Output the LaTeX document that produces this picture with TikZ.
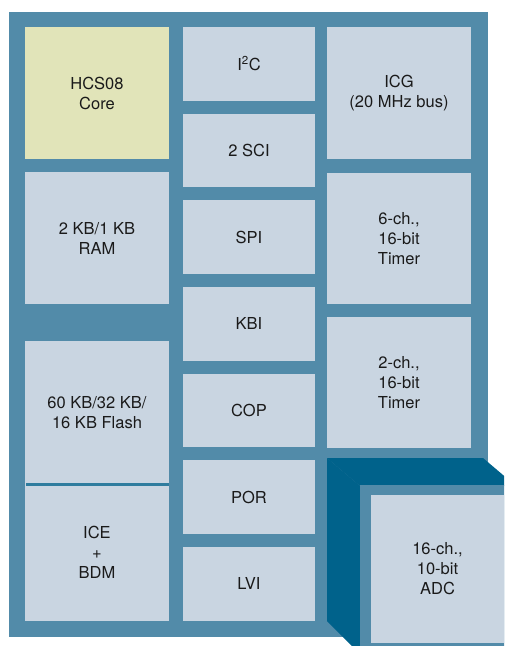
\documentclass[tikz,border=0pt]{standalone}
\usepackage{fontspec}
\setmainfont{TeX Gyre Heros}
\usepackage{tikz}
\usepackage{xcolor}
\usetikzlibrary{positioning, calc}
\definecolor{cFrame}  {HTML}{528BA9}
\definecolor{cBlock}  {HTML}{C9D5E1}
\definecolor{cCore}   {HTML}{E1E4B9}
\definecolor{cDeep}   {HTML}{00628B}
\definecolor{cRule}   {HTML}{2E7C9E}
\definecolor{cInk}    {HTML}{1A1A1A}
\tikzset{
  blk/.style={fill=cBlock, draw=none, inner sep=0pt, outer sep=0pt,
    align=center, text=cInk, font=\fontsize{16.5}{20}\selectfont},
  coreblk/.style={blk, fill=cCore},
}
\begin{document}
\begin{tikzpicture}[x=1pt, y=-1pt]
  \useasboundingbox (0,0) rectangle (504,646);
  \clip (0,0) rectangle (504,646);
  % chip outline
  \fill[cFrame] (9,12) rectangle (488,637);
  % left column
  \node[coreblk, minimum width=144pt, minimum height=132pt] (core) at (97,93) {HCS08\\Core};
  \node[blk, minimum width=144pt, minimum height=132pt] (ram) at (97,238) {2 KB/1 KB\\RAM};
  \node[blk, minimum width=144pt, minimum height=143pt] (flash) at (97,412.5) {60 KB/32 KB/\\16 KB Flash};
  \node[blk, minimum width=144pt, minimum height=137pt, below=0pt of flash] (ice) {ICE\\+\\BDM};
  \draw[cRule, line width=3pt] ([xshift=1pt]flash.south west) -- (flash.south east);
  % middle column, one block per peripheral
  \foreach \i/\name/\txt in {0/iic/I\textsuperscript{2}C, 1/sci/2 SCI, 2/spi/SPI,
      3/kbi/KBI, 4/cop/COP, 5/por/POR, 6/lvi/LVI}{
    \node[blk, minimum width=132pt, minimum height=73.6pt] (\name) at (249, 63.8+\i*86.67) {\txt};
  }
  % right column
  \node[blk, minimum width=144pt, minimum height=132pt] (icg) at (399,93) {ICG\\(20 MHz bus)};
  \node[blk, minimum width=144pt, minimum height=131pt] (tmrsix) at (399,238.5) {6-ch.,\\16-bit\\Timer};
  \node[blk, minimum width=144pt, minimum height=131pt] (tmrtwo) at (399,382.5) {2-ch.,\\16-bit\\Timer};
  % raised ADC block
  \fill[cDeep] (327,458) -- (483,458) -- (516,486) -- (360,486) -- cycle;
  \fill[cDeep] (327,458) -- (360,486) -- (360,646) -- (352,646) -- (327,621) -- cycle;
  \fill[cFrame] (360,485) rectangle (540,646);
  \node[blk, minimum width=133pt, minimum height=148pt] (adc) at (437.5,569) {16-ch.,\\10-bit\\ADC};
  \fill[cBlock] (adc.north east) rectangle (540,643);
\end{tikzpicture}
\end{document}
